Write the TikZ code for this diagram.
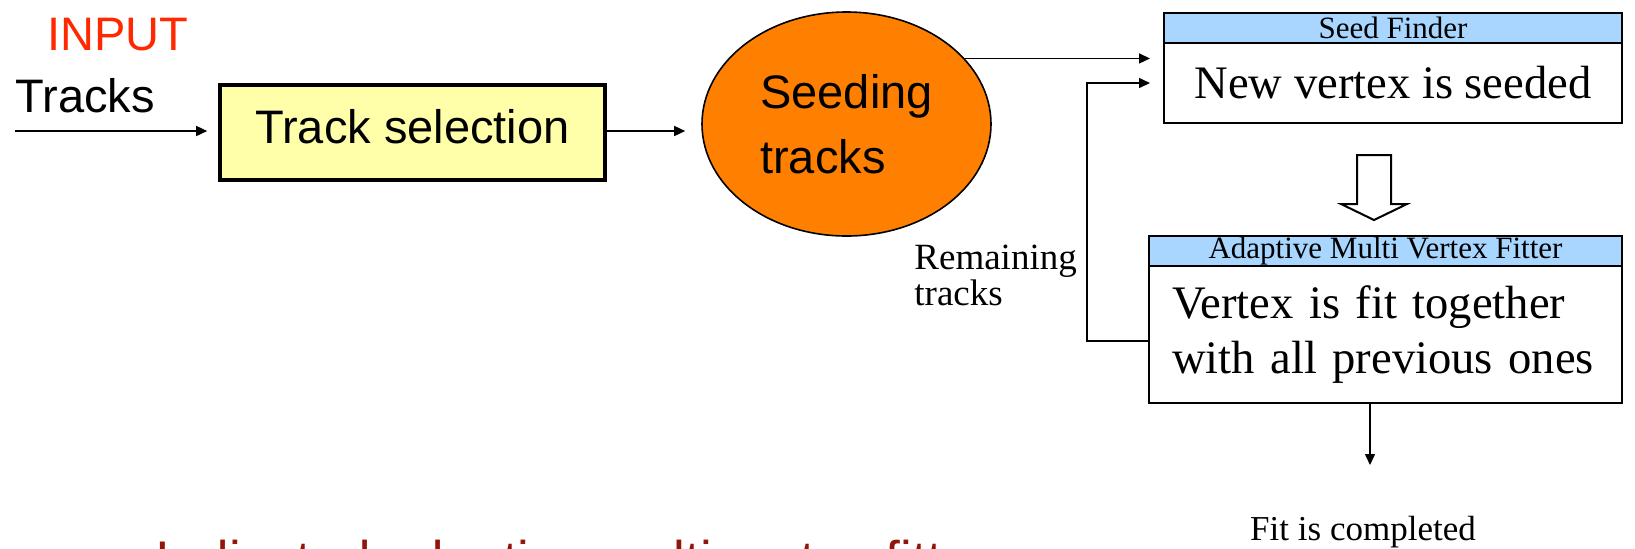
\documentclass[tikz,border=0pt]{standalone}
\usepackage{fontspec}
\setmainfont{Liberation Serif}
\setsansfont{Liberation Sans}
\usetikzlibrary{shapes.geometric, arrows.meta, positioning}
\definecolor{inputred}{RGB}{255,40,0}
\definecolor{titlered}{RGB}{145,22,8}
\definecolor{selyellow}{RGB}{255,255,170}
\definecolor{seedorange}{RGB}{255,128,0}
\definecolor{headblue}{RGB}{168,214,255}
\tikzset{
    arrow/.style={
        -{Triangle[length=5.5pt,width=5pt]},
        line width=0.75pt
    },
    header/.style={
        rectangle,
        draw=black,
        line width=1pt,
        fill=headblue,
        inner sep=0pt,
        outer sep=0pt,
        minimum height=15pt,
        font=\fontsize{15.5pt}{17pt}\selectfont
    },
    body/.style={
        rectangle,
        draw=black,
        line width=1pt,
        fill=white,
        inner sep=0pt,
        outer sep=0pt,
        font=\fontsize{23.3pt}{27.5pt}\selectfont
    },
    sans/.style={font=\sffamily\fontsize{23.5pt}{26pt}\selectfont}
}

\begin{document}
\begin{tikzpicture}[x=0.5pt, y=-0.5pt]
    \useasboundingbox (0,0) rectangle (1635,548);

    \node[sans, anchor=base west, inner sep=0pt, text=inputred] (input)  at (47,50)  {INPUT};
    \node[sans, anchor=base west, inner sep=0pt]                (tracks) at (15,112) {Tracks};
    \coordinate (start) at (15,131);

    \node[sans, draw=black, line width=1.8pt, fill=selyellow, text depth=6pt,
          minimum width=192.5pt, minimum height=47.5pt] (sel) at (412.5,132.5) {Track selection};

    \node[ellipse, draw=black, line width=0.8pt, fill=seedorange, inner sep=0pt,
          minimum width=144.5pt, minimum height=112pt, align=left,
          font=\sffamily\fontsize{23.5pt}{32.5pt}\selectfont] (seed) at (846.5,124) {Seeding\\tracks};

    \node[header, minimum width=229pt] (findhead) at (1393,28) {Seed Finder};
    \node[body, minimum width=229pt, minimum height=40pt, below=0pt of findhead] (findbody) {New vertex is seeded};

    \node[header, minimum width=236.5pt] (fithead) at (1385.5,251) {Adaptive Multi Vertex Fitter};
    \node[body, minimum width=236.5pt, minimum height=68.5pt, text width=213.5pt, align=left,
          below=0pt of fithead] (fitbody) {Vertex is fit together\\with all previous ones};

    \node[anchor=west, align=left, inner sep=0pt, font=\fontsize{18.5pt}{18pt}\selectfont] (remain) at (914,275) {Remaining\\tracks};

    \coordinate (done) at (1370,465);
    \node[anchor=base, inner sep=0pt, font=\fontsize{17.5pt}{19pt}\selectfont] (fitdone) at (1363,540) {Fit is completed};

    \node[sans, anchor=base west, inner sep=0pt, text=titlered, font=\sffamily\fontsize{26.5pt}{30pt}\selectfont] (title) at (155,578) {Indicated adaptive multi vertex fitter};

    % hollow arrow between the two stages
    \draw[line width=1pt, fill=white] (1357,155) -- (1391,155) -- (1391,204) -- (1407,204) -- (1374,220) -- (1341,204) -- (1357,204) -- cycle;

    \draw[arrow, shorten >=5.5pt] (start) -- (start -| sel.west);
    \draw[arrow, shorten >=8pt]   (sel.east |- start) -- (start -| seed.west);
    \draw[arrow, shorten >=7pt]   (seed.29) -- (seed.29 -| findbody.west);
    \draw[arrow, shorten >=7pt]   ([yshift=-3.25pt]fitbody.west) -- ++(-62,0) |- (findbody.west);
    \draw[arrow] (fitbody.south -| done) -- (done);
\end{tikzpicture}
\end{document}
